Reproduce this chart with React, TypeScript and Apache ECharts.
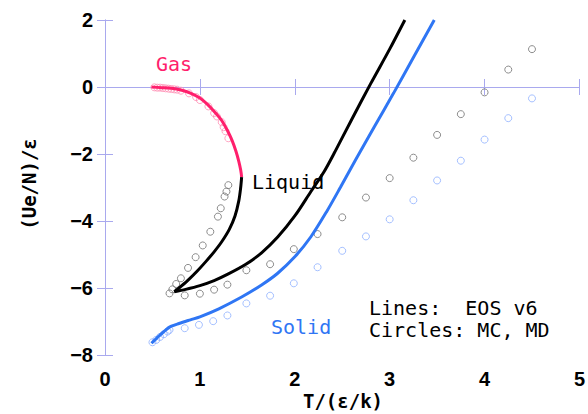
import React, { useEffect, useRef } from "react";
import * as echarts from "echarts";

// EOS v6 curves: temperature T/(ε/k) and internal energy (Ue/N)/ε
const gasT = [0.49, 0.6, 0.7, 0.8, 0.9, 1.0, 1.08, 1.16, 1.23, 1.29, 1.34, 1.38, 1.41, 1.43, 1.44];
const gasU = [0.0, -0.02, -0.04, -0.09, -0.18, -0.33, -0.52, -0.76, -1.0, -1.3, -1.6, -1.92, -2.22, -2.48, -2.69];

const liquidUpperT = [1.44, 1.43, 1.41, 1.37, 1.31, 1.23, 1.15, 1.06, 0.97, 0.87, 0.78, 0.73];
const liquidUpperU = [-2.69, -3.0, -3.4, -3.85, -4.25, -4.62, -4.92, -5.22, -5.5, -5.78, -6.0, -6.11];

const liquidLowerT = [0.73, 0.85, 1.0, 1.15, 1.3, 1.48, 1.65, 1.82, 2.0, 2.17, 2.31, 2.42, 2.6, 2.8, 3.0, 3.16];
const liquidLowerU = [-6.11, -6.04, -5.93, -5.78, -5.58, -5.3, -4.95, -4.48, -3.85, -3.12, -2.52, -1.95, -0.97, 0.1, 1.13, 2.0];

const solidT = [0.49, 0.57, 0.65, 0.7, 0.78, 0.9, 1.0, 1.2, 1.44, 1.65, 1.82, 2.0, 2.17, 2.34, 2.48, 2.64, 2.84, 3.04, 3.25, 3.47];
const solidU = [-7.65, -7.43, -7.23, -7.14, -7.06, -6.95, -6.86, -6.62, -6.27, -5.91, -5.56, -5.07, -4.47, -3.7, -3.0, -2.18, -1.18, -0.19, 0.88, 2.0];

// MC / MD simulation points
const mcGasT = [0.52, 0.55, 0.58, 0.61, 0.64, 0.67, 0.7, 0.73, 0.76, 0.8, 0.885, 0.96, 1.0, 1.09, 1.15, 1.18, 1.23, 1.25, 1.27, 1.3];
const mcGasU = [-0.01, -0.02, -0.02, -0.03, -0.04, -0.05, -0.06, -0.07, -0.08, -0.11, -0.19, -0.3, -0.39, -0.58, -0.78, -0.88, -1.05, -1.2, -1.32, -1.53];

const mcFluidT = [
  0.68, 0.71, 0.75, 0.8, 0.875, 0.955, 1.03, 1.11, 1.19, 1.22, 1.26, 1.28, 1.3,
  0.84, 1.0, 1.15, 1.29, 1.49, 1.74, 1.99, 2.24, 2.5, 2.75, 3.0, 3.25, 3.5, 3.75, 4.0, 4.25, 4.5,
];
const mcFluidU = [
  -6.16, -6.04, -5.88, -5.71, -5.4, -5.08, -4.73, -4.32, -3.87, -3.62, -3.27, -3.12, -2.93,
  -6.22, -6.17, -6.05, -5.9, -5.47, -5.29, -4.84, -4.39, -3.89, -3.3, -2.72, -2.11, -1.43, -0.81, -0.16, 0.52, 1.13,
];

const mcSolidT = [0.5, 0.54, 0.58, 0.62, 0.66, 0.68, 0.84, 0.99, 1.14, 1.29, 1.49, 1.74, 1.99, 2.24, 2.5, 2.75, 3.0, 3.25, 3.5, 3.75, 4.0, 4.25, 4.5];
const mcSolidU = [-7.62, -7.55, -7.46, -7.38, -7.3, -7.25, -7.2, -7.1, -6.99, -6.82, -6.46, -6.23, -5.86, -5.38, -4.89, -4.46, -3.95, -3.38, -2.79, -2.2, -1.57, -0.93, -0.34];

const xTicks = { min: 0, max: 5, interval: 1 };
const yTicks = { min: -8, max: 2, interval: 2 };

const zip = (xs: number[], ys: number[]) => xs.map((x, i) => [x, ys[i]]);

const frameColor = "#a9a9ee";
const tickFont = '"Liberation Sans Narrow", "Liberation Sans", Arial, sans-serif';
const monoFont = '"DejaVu Sans Mono", "Liberation Mono", monospace';

export default function App() {
  const ref = useRef<HTMLDivElement>(null);

  useEffect(() => {
    if (!ref.current) return;
    const chart = echarts.init(ref.current, undefined, { renderer: "svg" });

    const axisLine = { show: true, lineStyle: { color: frameColor, width: 1 } };
    const axisTick = { show: true, inside: true, length: 8, lineStyle: { color: frameColor, width: 1 } };
    const labelStyle = {
      color: "#000",
      fontSize: 20,
      fontWeight: "bold" as const,
      fontFamily: tickFont,
      formatter: (v: number) => String(v).replace("-", "\u2212"),
    };

    const circle = (name: string, data: number[][], color: string) => ({
      name,
      type: "scatter" as const,
      data,
      symbol: "circle",
      symbolSize: 7,
      itemStyle: { color: "rgba(0,0,0,0)", borderColor: color, borderWidth: 1 },
      z: 2,
    });

    const curve = (name: string, data: number[][], color: string) => ({
      name,
      type: "line" as const,
      data,
      showSymbol: false,
      smooth: 0.3,
      lineStyle: { color, width: 3 },
      z: 3,
    });

    chart.setOption({
      animation: false,
      backgroundColor: "#ffffff",
      grid: { left: 105, top: 20, right: 3, bottom: 59, containLabel: false },
      xAxis: [
        {
          type: "value",
          ...xTicks,
          position: "bottom",
          axisLine,
          axisTick,
          axisLabel: { ...labelStyle, margin: 14 },
          splitLine: { show: false },
        },
        {
          type: "value",
          ...xTicks,
          position: "top",
          axisLine,
          axisTick,
          axisLabel: { show: false },
          splitLine: { show: false },
        },
      ],
      yAxis: [
        {
          type: "value",
          ...yTicks,
          position: "left",
          axisLine,
          axisTick,
          axisLabel: { ...labelStyle, margin: 12 },
          splitLine: { show: false },
        },
        {
          type: "value",
          ...yTicks,
          position: "right",
          axisLine,
          axisTick,
          axisLabel: { show: false },
          splitLine: { show: false },
        },
      ],
      series: [
        circle("MC gas", zip(mcGasT, mcGasU), "#ff8fb4"),
        circle("MC fluid", zip(mcFluidT, mcFluidU), "#707070"),
        circle("MC solid", zip(mcSolidT, mcSolidU), "#8fb0ff"),
        curve("Gas", zip(gasT, gasU), "#ff1f6c"),
        curve("Liquid upper", zip(liquidUpperT, liquidUpperU), "#000000"),
        curve("Liquid lower", zip(liquidLowerT, liquidLowerU), "#000000"),
        curve("Solid", zip(solidT, solidU), "#2f76f4"),
      ],
      graphic: [
        {
          type: "text",
          x: 29,
          y: 184,
          rotation: Math.PI / 2,
          style: {
            text: "(Ue/N)/ε",
            fill: "#000",
            fontSize: 19,
            fontWeight: "bold",
            fontFamily: monoFont,
            align: "center",
            verticalAlign: "middle",
          },
        },
        {
          type: "text",
          x: 343,
          y: 401,
          style: {
            text: "T/(ε/k)",
            fill: "#000",
            fontSize: 19,
            fontWeight: "bold",
            fontFamily: monoFont,
            align: "center",
            verticalAlign: "middle",
          },
        },
        {
          type: "text",
          x: 156,
          y: 64,
          style: { text: "Gas", fill: "#ff1f6c", fontSize: 20, fontFamily: monoFont, verticalAlign: "middle" },
        },
        {
          type: "text",
          x: 252,
          y: 182,
          style: { text: "Liquid", fill: "#000", fontSize: 20, fontFamily: monoFont, verticalAlign: "middle" },
        },
        {
          type: "text",
          x: 271,
          y: 327,
          style: { text: "Solid", fill: "#2f76f4", fontSize: 20, fontFamily: monoFont, verticalAlign: "middle" },
        },
        {
          type: "text",
          x: 369,
          y: 308,
          style: { text: "Lines:  EOS v6", fill: "#000", fontSize: 20, fontFamily: monoFont, verticalAlign: "middle" },
        },
        {
          type: "text",
          x: 369,
          y: 330,
          style: { text: "Circles: MC, MD", fill: "#000", fontSize: 20, fontFamily: monoFont, verticalAlign: "middle" },
        },
      ],
    });

    return () => chart.dispose();
  }, []);

  return (
    <div
      ref={ref}
      style={{ position: "absolute", left: 0, top: 0, width: 588, height: 414 }}
    />
  );
}
